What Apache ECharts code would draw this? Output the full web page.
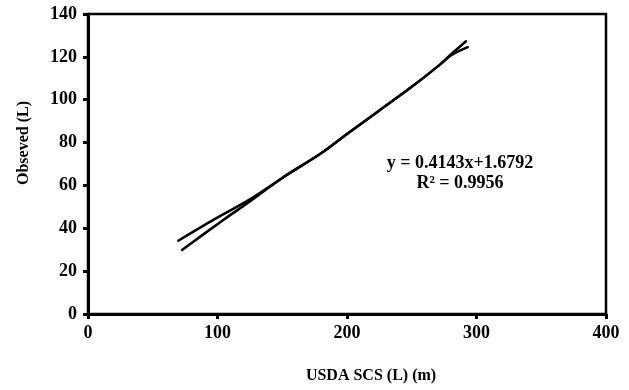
<!DOCTYPE html>
<html>
<head>
<meta charset="utf-8">
<script src="https://cdn.jsdelivr.net/npm/echarts@6/dist/echarts.min.js"></script>
<style>html,body{margin:0;padding:0;background:#fff}#c{width:629px;height:390px}</style>
</head>
<body>
<div id="c"></div>
<script>
// Fitted (regression) line
var fitX = [69.7, 96.8, 125, 150, 180, 200, 225, 250, 272, 280, 293.2];
var fitY = [34.2, 43.9, 53.5, 63.5, 75, 84, 95, 106, 116.5, 120.6, 124.5];
var obsX = [72.6, 104.5, 125, 150, 180, 200, 225, 250, 272, 280, 291.9];
var obsY = [29.9, 43.9, 52.5, 63.5, 75, 84, 95, 106, 116.5, 121, 127.3];
var xTicks = [0, 100, 200, 300, 400];
var yTicks = [0, 20, 40, 60, 80, 100, 120, 140];
var eqText = 'y = 0.4143x+1.6792';
var r2Text = 'R\u00B2 = 0.9956';
var xName = 'USDA SCS (L) (m)';
var yName = 'Obseved (L)';

function pairs(xs, ys){ return xs.map(function(x,i){ return [x, ys[i]]; }); }

var font = '"Liberation Serif", "Times New Roman", serif';
var chart = echarts.init(document.getElementById('c'));
chart.setOption({
  animation: false,
  backgroundColor: '#fff',
  grid: {left: 88, right: 23, top: 14, bottom: 76, outerBoundsMode: 'none', containLabel: false,
         show: true, borderColor: '#000', borderWidth: 2.5, backgroundColor: 'transparent'},
  xAxis: {
    type: 'value', min: xTicks[0], max: xTicks[xTicks.length-1], interval: 100,
    name: xName, nameLocation: 'middle', nameGap: 54,
    nameTextStyle: {fontFamily: font, fontWeight: 'bold', fontSize: 16, color: '#000', padding: [0, 0, 0, 48]},
    axisLine: {lineStyle: {color: '#000', width: 3}},
    axisTick: {show: true, length: 5, lineStyle: {color: '#000', width: 3}},
    axisLabel: {fontFamily: font, fontWeight: 'bold', fontSize: 18, color: '#000', margin: 10},
    splitLine: {show: false}
  },
  yAxis: {
    type: 'value', min: yTicks[0], max: yTicks[yTicks.length-1], interval: 20,
    name: yName, nameLocation: 'middle', nameGap: 56, nameRotate: 90,
    nameTextStyle: {fontFamily: font, fontWeight: 'bold', fontSize: 16, color: '#000', padding: [0, 0, 0, 42]},
    axisLine: {lineStyle: {color: '#000', width: 3}},
    axisTick: {show: true, length: 5, lineStyle: {color: '#000', width: 3}},
    axisLabel: {fontFamily: font, fontWeight: 'bold', fontSize: 18, color: '#000', margin: 11},
    splitLine: {show: false}
  },
  graphic: [
    {type: 'text', x: 460, y: 163, style: {text: eqText, font: 'bold 18px ' + font, fill: '#000', align: 'center', verticalAlign: 'middle'}},
    {type: 'text', x: 460, y: 183, style: {text: r2Text, font: 'bold 18px ' + font, fill: '#000', align: 'center', verticalAlign: 'middle'}}
  ],
  series: [
    {type: 'line', data: pairs(fitX, fitY), symbol: 'none', smooth: 0.3, lineStyle: {color: '#000', width: 2.5, cap: 'round'}},
    {type: 'line', data: pairs(obsX, obsY), symbol: 'none', smooth: 0.3, lineStyle: {color: '#000', width: 2.5, cap: 'round'}}
  ]
});
</script>
</body>
</html>
